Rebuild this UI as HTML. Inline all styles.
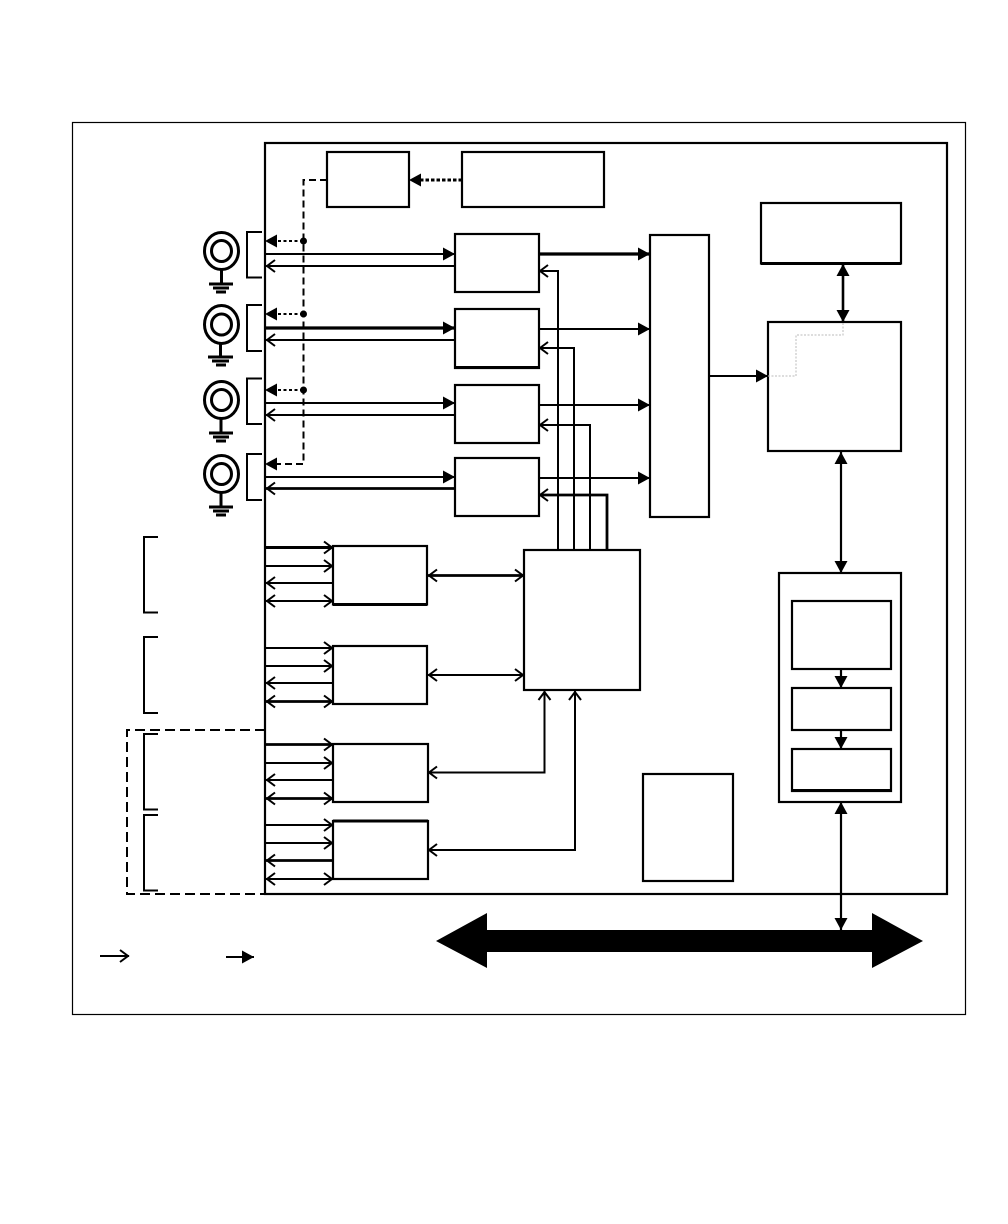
<!DOCTYPE html>
<html><head><meta charset="utf-8"><style>html,body{margin:0;padding:0;background:#fff}svg{display:block}</style></head><body>
<svg width="1008" height="1224" viewBox="0 0 1008 1224" xmlns="http://www.w3.org/2000/svg">
<defs>
<marker id="f" markerUnits="userSpaceOnUse" markerWidth="14" markerHeight="16" refX="12" refY="8" orient="auto-start-reverse"><path d="M0 1.500L12 8L0 14.500Z" fill="#000"/></marker>
<marker id="o" markerUnits="userSpaceOnUse" markerWidth="12" markerHeight="16" refX="10" refY="8" orient="auto-start-reverse"><path d="M1 2L9 8L1 14" fill="none" stroke="#000" stroke-width="2"/></marker>
</defs>
<rect width="1008" height="1224" fill="#fff"/>
<rect x="72.500" y="122.500" width="893" height="892" fill="none" stroke="#000" stroke-width="1.200"/>
<rect x="265" y="143" width="682" height="751" fill="none" stroke="#000" stroke-width="2.200"/>
<g fill="none" stroke="#000" stroke-width="2.200">
<rect x="327" y="152" width="82" height="55"/><rect x="462" y="152" width="142" height="55"/>
<rect x="455" y="234" width="84" height="58"/><rect x="455" y="309" width="84" height="59"/>
<rect x="455" y="385" width="84" height="58"/><rect x="455" y="458" width="84" height="58"/>
<rect x="650" y="235" width="59" height="282"/><rect x="761" y="203" width="140" height="60.500"/>
<rect x="768" y="322" width="133" height="129"/><rect x="779" y="573" width="122" height="229"/>
<rect x="792" y="601" width="99" height="68"/><rect x="792" y="688" width="99" height="42"/><rect x="792" y="749" width="99" height="42"/>
<rect x="333" y="546" width="94" height="58.500"/><rect x="333" y="646" width="94" height="58"/>
<rect x="333" y="744" width="95" height="58"/><rect x="333" y="821" width="95" height="58"/>
<rect x="524" y="550" width="116" height="140"/><rect x="643" y="774" width="90" height="107"/>
<path d="M761 263.500H901M333 604.500H427M455 367.500H539M792 790.500H891" stroke-width="3"/>
<path d="M333 821H428" stroke-width="3"/>
</g>
<g fill="none" stroke="#000">
<path d="M327 180H303.500V464H277" stroke-width="2" stroke-dasharray="7 4"/>
<path d="M462 180H421" stroke-width="3" stroke-dasharray="3.500 2"/>
<path d="M265 730H127V894H265" stroke-width="2" stroke-dasharray="10 5"/>
<path d="M303 241H277M303 314H277M303 390H277" stroke-width="2" stroke-dasharray="3 2.500"/>
</g>
<g fill="#000">
<path d="M409 180L421 173.500V186.500Z"/><path d="M265 241L277 234.500V247.500Z"/><path d="M265 314L277 307.500V320.500Z"/><path d="M265 390L277 383.500V396.500Z"/><path d="M265 464L277 457.500V470.500Z"/>
<circle cx="303.500" cy="241" r="3.500"/><circle cx="303.500" cy="314" r="3.500"/><circle cx="303.500" cy="390" r="3.500"/>
</g>
<g fill="none" stroke="#000">
<g><ellipse cx="221.500" cy="251" rx="17" ry="18.500" stroke-width="3"/><ellipse cx="221.500" cy="251" rx="10" ry="10.500" stroke-width="3"/><path d="M221.500 270V284" stroke-width="3"/><path d="M209 284H233" stroke-width="3"/><path d="M213 288H229" stroke-width="3"/><path d="M216 292H226" stroke-width="3"/></g>
<g><ellipse cx="221.500" cy="324.500" rx="17" ry="19" stroke-width="3"/><ellipse cx="221.500" cy="324.500" rx="10" ry="10.500" stroke-width="3"/><path d="M220.500 344V357" stroke-width="3"/><path d="M208 357H233" stroke-width="3"/><path d="M212 361H229" stroke-width="3"/><path d="M216 365H226" stroke-width="3"/></g>
<g><ellipse cx="221.500" cy="400" rx="17" ry="18.500" stroke-width="3"/><ellipse cx="221.500" cy="400" rx="10" ry="10.500" stroke-width="3"/><path d="M221 419V433" stroke-width="3"/><path d="M209 433H233" stroke-width="3"/><path d="M213 437H229" stroke-width="3"/><path d="M216 441H226" stroke-width="3"/></g>
<g><ellipse cx="221.500" cy="474" rx="17" ry="18.500" stroke-width="3"/><ellipse cx="221.500" cy="474" rx="10" ry="10.500" stroke-width="3"/><path d="M221 493V507" stroke-width="3"/><path d="M209 507H233" stroke-width="3"/><path d="M213 511H229" stroke-width="3"/><path d="M216 515H226" stroke-width="3"/></g>
<g stroke-width="2">
<path d="M262 232H247V277.500H262"/><path d="M262 305H247V351H262"/><path d="M262 378.500H247V424H262"/><path d="M262 454H247V500H262"/>
<path d="M158 537H144V612.500H158"/><path d="M158 637H144V713H158"/><path d="M158 734H144V809.500H158"/><path d="M158 815H144V890.500H158"/>
</g>
</g>
<g fill="none" stroke="#000" stroke-width="2">
<path d="M266 254H455" marker-end="url(#f)"/>
<path d="M455 266H266" marker-end="url(#o)"/>
<path d="M266 328H455" stroke-width="3.200" marker-end="url(#f)"/>
<path d="M455 340H266" marker-end="url(#o)"/>
<path d="M266 403H455" marker-end="url(#f)"/>
<path d="M455 415H266" marker-end="url(#o)"/>
<path d="M266 477H455" marker-end="url(#f)"/>
<path d="M455 488.500H266" stroke-width="2.800" marker-end="url(#o)"/>
<path d="M540 254H650" stroke-width="3.200" marker-end="url(#f)"/>
<path d="M540 329H650" marker-end="url(#f)"/>
<path d="M540 405H650" marker-end="url(#f)"/>
<path d="M540 478H650" marker-end="url(#f)"/>
<path d="M558 550V271H539" marker-end="url(#o)"/>
<path d="M574 550V348H539" marker-end="url(#o)"/>
<path d="M590 550V425H539" marker-end="url(#o)"/>
<path d="M607 550V495H539" stroke-width="2.800" marker-end="url(#o)"/>
<path d="M710 376H768" marker-end="url(#f)"/>
<path d="M843 264V322" stroke-width="2.600" marker-start="url(#f)" marker-end="url(#f)"/>
<path d="M841 452V573" stroke-width="2.200" marker-start="url(#f)" marker-end="url(#f)"/>
<path d="M841 669V688" stroke-width="2.200" marker-end="url(#f)"/>
<path d="M841 730V749" stroke-width="2.200" marker-end="url(#f)"/>
<path d="M841 802V930" stroke-width="2.200" marker-start="url(#f)" marker-end="url(#f)"/>
<path d="M428 575.500H524" stroke-width="2.800" marker-start="url(#o)" marker-end="url(#o)"/>
<path d="M428 675H524" marker-start="url(#o)" marker-end="url(#o)"/>
<path d="M428 772.500H544.500V691" marker-start="url(#o)" marker-end="url(#o)"/>
<path d="M428 850H575V691" marker-start="url(#o)" marker-end="url(#o)"/>
<path d="M266 547.500H333" stroke-width="3" marker-end="url(#o)"/>
<path d="M266 566H333" marker-end="url(#o)"/>
<path d="M333 583H266" marker-end="url(#o)"/>
<path d="M266 601H333" marker-start="url(#o)" marker-end="url(#o)"/>
<path d="M266 648H333" marker-end="url(#o)"/>
<path d="M266 666H333" marker-end="url(#o)"/>
<path d="M333 683H266" marker-end="url(#o)"/>
<path d="M266 701.500H333" stroke-width="2.800" marker-start="url(#o)" marker-end="url(#o)"/>
<path d="M266 744.500H333" stroke-width="2.800" marker-end="url(#o)"/>
<path d="M266 763H333" marker-end="url(#o)"/>
<path d="M333 780H266" marker-end="url(#o)"/>
<path d="M266 798.500H333" stroke-width="2.800" marker-start="url(#o)" marker-end="url(#o)"/>
<path d="M266 825H333" marker-end="url(#o)"/>
<path d="M266 843H333" marker-end="url(#o)"/>
<path d="M333 860.500H266" stroke-width="2.800" marker-end="url(#o)"/>
<path d="M266 879H333" marker-start="url(#o)" marker-end="url(#o)"/>
<path d="M100 956H129" marker-end="url(#o)"/>
<path d="M226 957H254" marker-end="url(#f)"/>
</g>
<path d="M768 376H796V335H843V322" fill="none" stroke="#bbb" stroke-width="1" stroke-dasharray="2 1.500"/>
<path d="M436 941L487 913V930H872V913L923 941L872 968V952H487V968Z" fill="#000"/>
</svg>
</body></html>
